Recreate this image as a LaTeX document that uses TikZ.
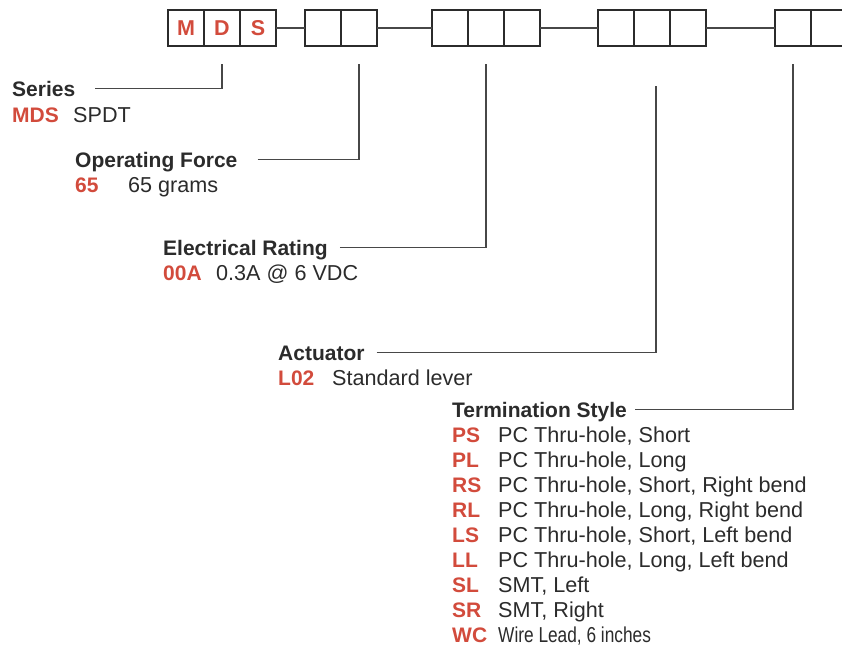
\documentclass[tikz,border=0pt]{standalone}
\usepackage{fontspec}
\setmainfont{Liberation Sans}
\newfontfamily\narrowfont[FakeStretch=0.8]{Liberation Sans}
\usetikzlibrary{positioning}
\definecolor{codered}{HTML}{D24B3C}
\definecolor{inkgray}{HTML}{2B2B2B}
\definecolor{linegray}{HTML}{474747}
\tikzset{
  digit/.style={draw=inkgray, line width=1.4pt, minimum width=36pt, minimum height=36pt, inner sep=0pt, outer sep=0pt, anchor=north west, font=\fontsize{21.5}{25}\selectfont\bfseries, text=codered},
  bus/.style={linegray, line width=1.4pt},
  leader/.style={linegray, line width=1.4pt},
  title/.style={anchor=base west, inner sep=0pt, font=\fontsize{21}{25}\selectfont\bfseries, text=inkgray, text height=15pt, text depth=0pt},
  option/.style={anchor=base west, inner sep=0pt, font=\fontsize{21.6}{25}\selectfont, text=inkgray}
}
\newcommand{\code}[2]{\makebox[#1][l]{\fontsize{21}{25}\selectfont\bfseries\color{codered}#2}}
\begin{document}
\begin{tikzpicture}[x=1pt, y=-1pt]
  \useasboundingbox (0,0) rectangle (842,648);
  \clip (0,0) rectangle (842,648);
  % part number boxes
  \foreach \x/\t [count=\i] in {168/M,204/D,240/S}
    \node[digit] (box\i) at (\x,10) {\t};
  \foreach \x [count=\i from 4] in {305,341,432,468,504,598,634,670,775,811}
    \node[digit] (box\i) at (\x,10) {};
  \draw[bus] (box3.east) -- (box4.west);
  \draw[bus] (box5.east) -- (box6.west);
  \draw[bus] (box8.east) -- (box9.west);
  \draw[bus] (box11.east) -- (box12.west);
  % leader tops
  \coordinate (seriestop) at ([yshift=-18pt]box2.south);
  \coordinate (forcetop) at ([yshift=-18pt]box5.south);
  \coordinate (ratingtop) at ([yshift=-18pt]box7.south);
  \coordinate (acttop) at ([xshift=4pt,yshift=-40pt]box10.south);
  \coordinate (termtop) at ([yshift=-18pt]box12.south);
  % fields
  \node[title] (series) at (12,96) {Series};
  \node[option] (seriesopt) at (12,122) {\code{61pt}{MDS}SPDT};
  \node[title] (force) at (75,167) {Operating Force};
  \node[option] (forceopt) at (75,192) {\code{53pt}{65}65 grams};
  \node[title] (rating) at (163,255) {Electrical Rating};
  \node[option] (ratingopt) at (163,280) {\code{53pt}{00A}0.3A @ 6 VDC};
  \node[title] (act) at (278,360) {Actuator};
  \node[option] (actopt) at (278,385) {\code{54pt}{L02}Standard lever};
  \node[title] (term) at (452,417) {Termination Style};
  \foreach \c/\d [count=\i] in {PS/{PC Thru-hole, Short},PL/{PC Thru-hole, Long},RS/{PC Thru-hole, Short, Right bend},RL/{PC Thru-hole, Long, Right bend},LS/{PC Thru-hole, Short, Left bend},LL/{PC Thru-hole, Long, Left bend},SL/{SMT, Left},SR/{SMT, Right},WC/{\narrowfont Wire Lead, 6 inches}}
    \node[option] (term\c) at (452,{417+25.1*\i}) {\code{46pt}{\c}\d};
  % leaders
  \draw[leader] ([xshift=20pt]series.east) -| (seriestop);
  \draw[leader] ([xshift=20pt]force.east) -| (forcetop);
  \draw[leader] ([xshift=12pt]rating.east) -| (ratingtop);
  \draw[leader] ([xshift=12pt]act.east) -| (acttop);
  \draw[leader] ([xshift=8pt]term.east) -| (termtop);
\end{tikzpicture}
\end{document}
